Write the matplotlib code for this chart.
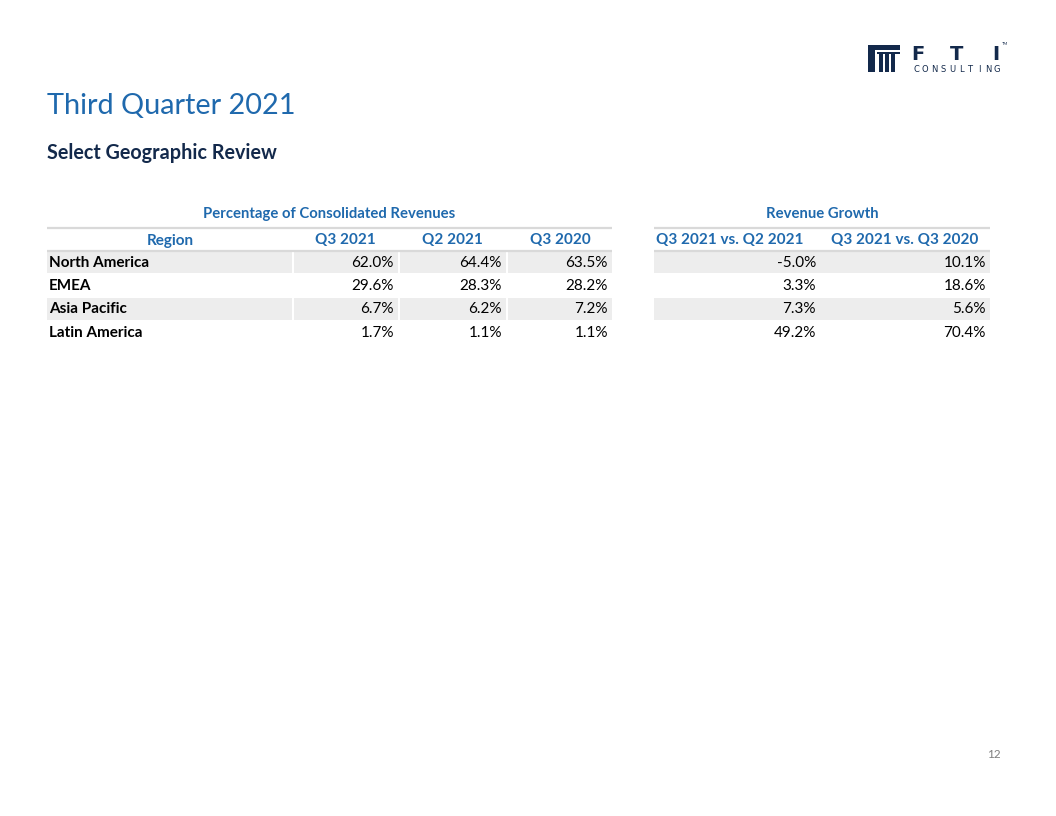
import matplotlib.pyplot as plt
from matplotlib.patches import Rectangle

plt.rcParams['font.family'] = ['Lato', 'DejaVu Sans']

# data
regions = ['North America', 'EMEA', 'Asia Pacific', 'Latin America']
q3_2021 = [62.0, 29.6, 6.7, 1.7]
q2_2021 = [64.4, 28.3, 6.2, 1.1]
q3_2020 = [63.5, 28.2, 7.2, 1.1]
growth_vs_q2 = [-5.0, 3.3, 7.3, 49.2]
growth_vs_q3 = [10.1, 18.6, 5.6, 70.4]

left_headers = ['Region', 'Q3 2021', 'Q2 2021', 'Q3 2020']
right_headers = ['Q3 2021 vs. Q2 2021', 'Q3 2021 vs. Q3 2020']

BLUE = '#1f69ad'
NAVY = '#13294b'
SHADE = '#ededed'
RULE = '#d9d9d9'

fig = plt.figure(figsize=(10.56, 8.16), dpi=100)
ax = fig.add_axes([0, 0, 1, 1])
ax.set_xlim(0, 1056)
ax.set_ylim(816, 0)
ax.axis('off')

# titles
ax.text(47, 106, 'Third Quarter 2021', fontsize=20.8, color=BLUE, va='center', ha='left')
ax.text(47, 153, 'Select Geographic Review', fontsize=14.2, color=NAVY,
        fontweight='bold', va='center', ha='left')

# logo
ax.add_patch(Rectangle((868, 45), 32, 5, color=NAVY, lw=0))
ax.add_patch(Rectangle((868, 50), 7, 22, color=NAVY, lw=0))
for xx in [879, 885, 891]:
    ax.add_patch(Rectangle((xx, 54), 3.5, 18, color=NAVY, lw=0))
ax.add_patch(Rectangle((877, 52), 23, 1.5, color=NAVY, lw=0))
for xx, ch in zip([918, 957, 996], ['F', 'T', 'I']):
    ax.text(xx, 54, ch, fontsize=14, color=NAVY, ha='center', va='center',
            fontweight='bold', family='DejaVu Sans')
ax.text(1005, 44, 'TM', fontsize=3, color=NAVY, ha='center', va='center')
word = 'CONSULTING'
for k, ch in enumerate(word):
    ax.text(916 + k * 9.0, 69, ch, fontsize=6, color=NAVY, ha='center',
            va='center', family='DejaVu Sans')

# table geometry
row_top = 251
row_h = 23.3
left_cells = [(47, 292), (294, 398), (400, 506), (508, 612)]
right_cells = [(654, 820), (820, 990)]

# group headers and rules
ax.text((47 + 612) / 2, 214, 'Percentage of Consolidated Revenues', fontsize=10.7,
        color=BLUE, fontweight='bold', ha='center', va='center')
ax.text((654 + 990) / 2, 214, 'Revenue Growth', fontsize=10.7,
        color=BLUE, fontweight='bold', ha='center', va='center')
for x0, x1 in [(47, 612), (654, 990)]:
    ax.plot([x0, x1], [228, 228], color=RULE, lw=1.6, solid_capstyle='butt')
    ax.plot([x0, x1], [250.5, 250.5], color=RULE, lw=1.6, solid_capstyle='butt')

head_centers_left = [170, 345, 452, 560]
for cx, h in zip(head_centers_left, left_headers):
    ax.text(cx, 240.5, h, fontsize=11, color=BLUE, fontweight='bold',
            ha='center', va='center')
head_centers_right = [730, 905]
for cx, h in zip(head_centers_right, right_headers):
    ax.text(cx, 240.5, h, fontsize=11, color=BLUE, fontweight='bold',
            ha='center', va='center')

# body rows
for i, reg in enumerate(regions):
    y0 = row_top + i * row_h
    yc = y0 + row_h / 2
    if i % 2 == 0:
        for x0, x1 in left_cells:
            ax.add_patch(Rectangle((x0, y0), x1 - x0, row_h - 1, color=SHADE, lw=0))
        ax.add_patch(Rectangle((654, y0), 990 - 654, row_h - 1, color=SHADE, lw=0))
    ax.text(49, yc, reg, fontsize=11, fontweight='bold', color='black',
            ha='left', va='center')
    vals = [q3_2021[i], q2_2021[i], q3_2020[i]]
    for (x0, x1), v in zip(left_cells[1:], vals):
        ax.text(x1 - 4, yc, f'{v:.1f}%', fontsize=11, color='black',
                ha='right', va='center')
    for (x0, x1), v in zip(right_cells, [growth_vs_q2[i], growth_vs_q3[i]]):
        ax.text(x1 - 4, yc, f'{v:.1f}%', fontsize=11, color='black',
                ha='right', va='center')

# page number
ax.text(1001, 755, '12', fontsize=8.5, color='#7f7f7f', ha='right', va='center')

fig.savefig('out.png', dpi=100, facecolor='white')
